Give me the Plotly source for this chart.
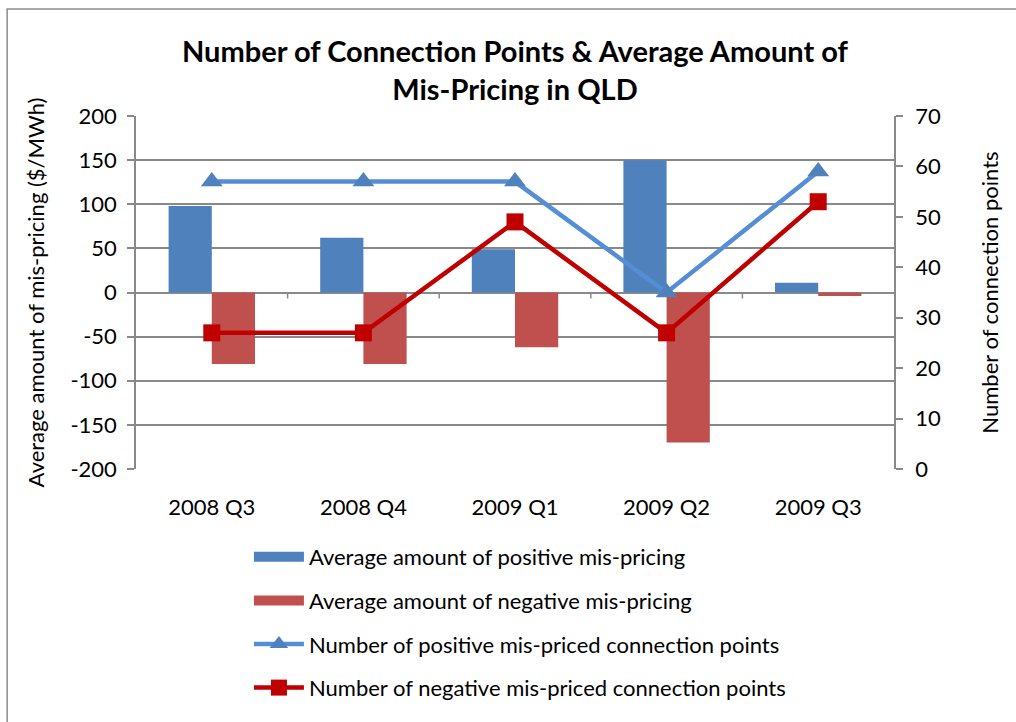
import plotly.graph_objects as go

categories = ["2008 Q3", "2008 Q4", "2009 Q1", "2009 Q2", "2009 Q3"]
avg_positive = [98, 62, 49, 150, 11]
avg_negative = [-81, -81, -62, -170, -4]
num_positive = [57, 57, 57, 35, 59]
num_negative = [27, 27, 49, 27, 53]
left_ticks = [-200, -150, -100, -50, 0, 50, 100, 150, 200]
left_tick_labels = ["-200", "-150", "-100", "-50", "0", "50", "100", "150", "200"]

FONT = "Lato"
GRID = "#898989"
C_POS_BAR = "#4F81BD"
C_NEG_BAR = "#C0504D"

fig = go.Figure()
fig.add_trace(go.Bar(x=categories, y=avg_positive, name="Average amount of positive mis-pricing",
                     marker=dict(color=C_POS_BAR, line=dict(width=0)), showlegend=False))
fig.add_trace(go.Bar(x=categories, y=avg_negative, name="Average amount of negative mis-pricing",
                     marker=dict(color=C_NEG_BAR, line=dict(width=0)), showlegend=False))
# legend entries for the bars (wide rectangles like the original legend keys)
fig.add_trace(go.Scatter(x=[None], y=[None], mode="lines", name="Average amount of positive mis-pricing",
                         line=dict(color=C_POS_BAR, width=14), legendgroup="a"))
fig.add_trace(go.Scatter(x=[None], y=[None], mode="lines", name="Average amount of negative mis-pricing",
                         line=dict(color=C_NEG_BAR, width=14), legendgroup="b"))
fig.add_trace(go.Scatter(x=categories, y=num_positive, yaxis="y2", mode="lines+markers",
                         name="Number of positive mis-priced connection points",
                         line=dict(color="#558ED5", width=4.5),
                         marker=dict(symbol="triangle-up", size=19, color="#4F81BD"),
                         legendgroup="c"))
fig.add_trace(go.Scatter(x=categories, y=num_negative, yaxis="y2", mode="lines+markers",
                         name="Number of negative mis-priced connection points",
                         line=dict(color="#C00000", width=4.5),
                         marker=dict(symbol="square", size=17, color="#C00000"),
                         legendgroup="d"))

shapes = []
for i in range(1, len(categories)):
    shapes.append(dict(type="line", xref="x", yref="y", x0=i - 0.5, x1=i - 0.5,
                       ysizemode="pixel", yanchor=0, y0=0, y1=-6,
                       line=dict(color=GRID, width=1.5)))
shapes.append(dict(type="rect", xref="paper", yref="paper", x0=-0.170, x1=1.2, y0=-0.8, y1=1.303,
                   line=dict(color="#8c8c8c", width=1.5), fillcolor="rgba(0,0,0,0)", layer="below"))

fig.update_layout(
    width=1016, height=722,
    margin=dict(l=136, r=122, t=116, b=253),
    paper_bgcolor="white", plot_bgcolor="white",
    font=dict(family=FONT, size=22, color="black"),
    title=dict(text="<b>Number of Connection Points & Average Amount of<br>Mis-Pricing in QLD</b>",
               x=0.5, xref="paper", xanchor="center", y=1 - 62 / 722, yref="container", yanchor="middle",
               font=dict(family=FONT, size=29, color="black")),
    barmode="group", bargap=0.43, bargroupgap=0,
    xaxis=dict(type="category", showgrid=False, ticks="", ticklabelstandoff=23,
               showline=False, zeroline=False, tickfont=dict(size=22)),
    yaxis=dict(range=[-200, 200], tickvals=left_ticks, ticktext=left_tick_labels,
               showgrid=True, gridcolor=GRID, gridwidth=1.5,
               zeroline=True, zerolinecolor=GRID, zerolinewidth=1.5,
               showline=True, linecolor=GRID, linewidth=1.5, ticks="outside", ticklen=7,
               tickcolor=GRID, tickwidth=1.5, ticklabelstandoff=6, tickfont=dict(size=22),
               title=dict(text="Average amount of mis-pricing ($/MWh)", standoff=20, font=dict(size=22))),
    yaxis2=dict(range=[0, 70], dtick=10, overlaying="y", side="right", showgrid=False,
                zeroline=False, showline=True, linecolor=GRID, linewidth=1.5,
                ticks="outside", ticklen=7, tickcolor=GRID, tickwidth=1.5, ticklabelstandoff=8,
                tickfont=dict(size=22),
                title=dict(text="Number of connection points", standoff=43, font=dict(size=22))),
    legend=dict(orientation="v", x=0.149, xanchor="left", xref="paper",
                y=1 - 536 / 722, yanchor="top", yref="container",
                font=dict(size=22), tracegroupgap=12, itemwidth=50, bgcolor="rgba(0,0,0,0)",
                traceorder="grouped"),
    shapes=shapes,
)

fig.write_html("out.html", config={"displayModeBar": False},
               post_script="document.body.style.margin='0px';document.body.style.overflow='hidden';")
